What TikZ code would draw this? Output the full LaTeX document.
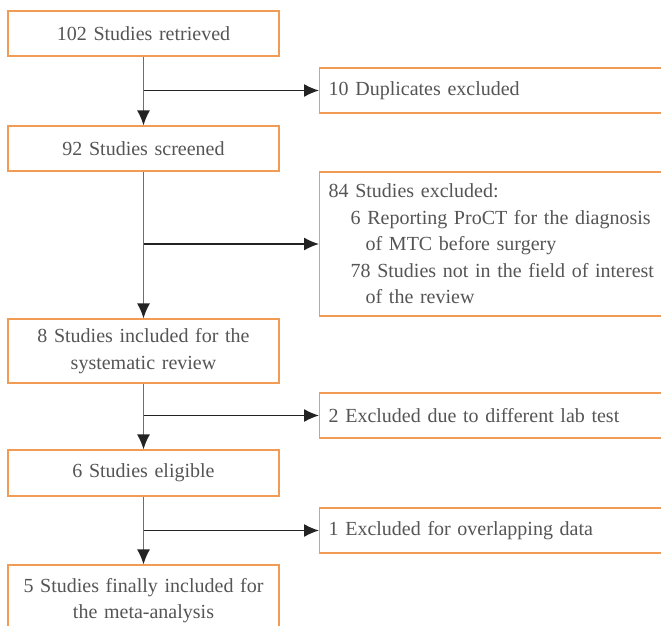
\documentclass[tikz,border=0pt]{standalone}
\usepackage{fontspec}
\setmainfont[WordSpace=0.8]{Liberation Serif}
\usetikzlibrary{arrows.meta}
\definecolor{boxorange}{RGB}{242,155,85}
\definecolor{txtgray}{RGB}{85,85,85}
\definecolor{vline}{RGB}{110,110,110}
\definecolor{hline}{RGB}{35,35,35}
\tikzset{
  lbox/.style={draw=boxorange, line width=1.3pt, rectangle, minimum width=271pt, text width=255pt, align=center, inner sep=0pt, text=txtgray, font=\fontsize{20}{26.5}\selectfont},
  rbox/.style={draw=boxorange, line width=1.3pt, rectangle, anchor=west, minimum width=381pt, text width=363pt, align=left, inner xsep=9pt, inner ysep=0pt, text=txtgray, font=\fontsize{20}{26.5}\selectfont},
  downarrow/.style={draw=vline, line width=1.3pt, -{Latex[length=15pt,width=13pt,color=hline]}},
  sidearrow/.style={draw=hline, line width=1.3pt, -{Latex[length=15pt,width=13pt]}},
}
\begin{document}
\begin{tikzpicture}[x=1pt,y=-1pt]
\useasboundingbox (0,0) rectangle (661,626);
\clip (0,0) rectangle (661,626);
\fill[white] (0,0) rectangle (661,626);
% left column
\node[lbox, minimum height=45pt] (b1) at (143.5,33.5) {102 Studies retrieved};
\node[lbox, minimum height=45pt] (b2) at (143.5,148.5) {92 Studies screened};
\node[lbox, minimum height=64pt] (b3) at (143.5,351) {8 Studies included for the\\systematic review};
\node[lbox, minimum height=46pt] (b4) at (143.5,473) {6 Studies eligible};
\node[lbox, minimum height=80pt, text depth=40pt] (b5) at (143.5,605) {5 Studies finally included for\\the meta-analysis};
% right column
\node[rbox, minimum height=45pt] (r1) at (319,90.5) {10 Duplicates excluded};
\node[rbox, minimum height=144pt] (r2) at (319,244) {84 Studies excluded:\\
\hspace*{22pt}6 Reporting ProCT for the diagnosis\\
\hspace*{37pt}of MTC before surgery\\
\hspace*{22pt}78 Studies not in the field of interest\\
\hspace*{37pt}of the review};
\node[rbox, minimum height=45pt] (r3) at (319,415.5) {2 Excluded due to different lab test};
\node[rbox, minimum height=45pt] (r4) at (319,530.5) {1 Excluded for overlapping data};
% arrows
\draw[downarrow] (b1.south) -- (b2.north);
\draw[downarrow] (b2.south) -- (b3.north);
\draw[downarrow] (b3.south) -- (b4.north);
\draw[downarrow] (b4.south) -- (b5.north);
\draw[sidearrow] (b1.south |- r1.west) -- (r1.west);
\draw[sidearrow] (b2.south |- r2.west) -- (r2.west);
\draw[sidearrow] (b3.south |- r3.west) -- (r3.west);
\draw[sidearrow] (b4.south |- r4.west) -- (r4.west);
\end{tikzpicture}
\end{document}
